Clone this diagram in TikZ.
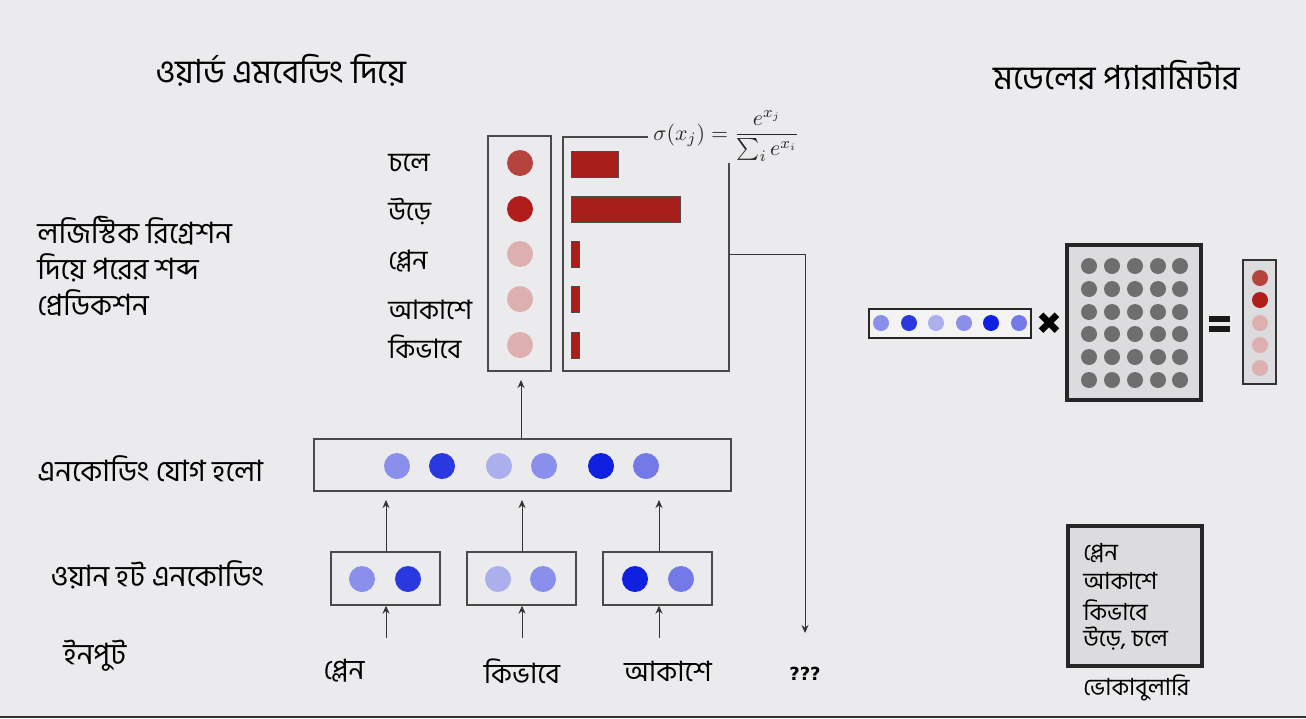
\documentclass[tikz,border=0pt]{standalone}
\usepackage{amsmath}
\usepackage{fontspec}
\newfontfamily\bn[Script=Bengali]{Hind Siliguri}
\newfontfamily\dv{DejaVu Sans}
\usetikzlibrary{arrows.meta}
\definecolor{bgc}{HTML}{EBEBED}
\definecolor{edge}{HTML}{4A4A4A}
\definecolor{rA}{HTML}{B5443F}
\definecolor{rB}{HTML}{B01D1B}
\definecolor{rC}{HTML}{DDAFAF}
\definecolor{bar}{HTML}{A81E1B}
\definecolor{bA}{HTML}{8A8FEB}
\definecolor{bB}{HTML}{2A38E0}
\definecolor{bC}{HTML}{ABAFEB}
\definecolor{bD}{HTML}{1020E0}
\definecolor{bE}{HTML}{7479E8}
\definecolor{mg}{HTML}{6E6E6E}
\definecolor{boxfill}{HTML}{DCDCDE}
\tikzset{
  lbl/.style={font=\bn\fontsize{14.7}{16}\selectfont, anchor=west, inner sep=0pt},
  wrd/.style={font=\bn\fontsize{13.4}{15}\selectfont, anchor=west, inner sep=0pt},
  inp/.style={font=\bn\fontsize{14}{16}\selectfont, anchor=center, inner sep=0pt},
  voct/.style={font=\bn\fontsize{11.8}{13}\selectfont, anchor=west, inner sep=0pt},
  ttl/.style={font=\bn\fontsize{16.6}{18}\selectfont, anchor=west, inner sep=0pt},
  box/.style={draw=edge, line width=0.7pt, inner sep=0pt},
  thickbox/.style={draw=black!85, line width=2pt, fill=boxfill, inner sep=0pt},
  dot/.style={circle, inner sep=0pt, minimum size=13pt},
  sdot/.style={circle, inner sep=0pt, minimum size=8pt},
  arr/.style={draw=black!80, line width=0.5pt, -{Stealth[length=4pt,width=3.5pt]}},
}
\begin{document}
\begin{tikzpicture}[x=0.5pt,y=-0.5pt]
\fill[bgc] (0,0) rectangle (1306,718);
\useasboundingbox (0,0) rectangle (1306,718);
\draw[black!80, line width=1.2pt] (0,716.8) -- (1306,716.8);

% titles
\node[ttl] (t1) at (155,70) {ওয়ার্ড এমবেডিং দিয়ে};
\node[ttl] (t2) at (993,75) {মডেলের প্যারামিটার};

% left labels
\node[lbl] (l1) at (37,231) {লজিস্টিক রিগ্রেশন};
\node[lbl] (l2) at (37,268) {দিয়ে পরের শব্দ};
\node[lbl] (l3) at (37,303) {প্রেডিকশন};
\node[lbl] (l4) at (37,469) {এনকোডিং যোগ হলো};
\node[lbl] (l5) at (50,575) {ওয়ান হট এনকোডিং};
\node[lbl] (l6) at (63,656) {ইনপুট};

% output words
\node[wrd] (w1) at (388,163) {চলে};
\node[wrd] (w2) at (388,212) {উড়ে};
\node[wrd] (w3) at (388,261) {প্লেন};
\node[wrd] (w4) at (388,310) {আকাশে};
\node[wrd] (w5) at (388,347) {কিভাবে};

% red circle box
\node[box, minimum width=31.5pt, minimum height=117.5pt] (rbox) at (519.5,253.5) {};
\node[dot, fill=rA] (r1) at (520,163) {};
\node[dot, fill=rB] (r2) at (520,209) {};
\node[dot, fill=rC] (r3) at (520,254) {};
\node[dot, fill=rC] (r4) at (520,299) {};
\node[dot, fill=rC] (r5) at (520,345) {};

% bar box
\coordinate (bbtl) at (563,137);
\coordinate (bbtr) at (648,137);
\coordinate (bbbl) at (563,371);
\coordinate (bbbr) at (729,371);
\coordinate (bbrt) at (729,163);
\draw[box] (bbtr) -- (bbtl) -- (bbbl) -- (bbbr) -- (bbrt);
\draw[fill=bar, draw=black!70, line width=0.5pt] (571,151) rectangle (618,177);
\draw[fill=bar, draw=black!70, line width=0.5pt] (571,196) rectangle (680,222);
\draw[fill=bar, draw=black!70, line width=0.5pt] (571,241) rectangle (579,267);
\draw[fill=bar, draw=black!70, line width=0.5pt] (571,286) rectangle (579,312);
\draw[fill=bar, draw=black!70, line width=0.5pt] (571,332) rectangle (579,358);
\node[anchor=west, inner sep=0pt, font=\fontsize{11}{13}\selectfont, text=black!85] (fm) at (653,136) {$\sigma(x_j) = \dfrac{e^{x_j}}{\sum_i e^{x_i}}$};

% connector to ???
\coordinate (bbr) at (729,254);
\coordinate (bend) at (805,254);
\node[inner sep=1pt, font=\dv\bfseries\fontsize{9}{11}\selectfont] (qq) at (805,674) {???};
\draw[arr] (bbr) -- (bend) -- (805,633);

% encoding box
\node[box, minimum width=208.5pt, minimum height=26pt] (enc) at (522.5,465) {};
\node[dot, fill=bA] (e1) at (397,466) {};
\node[dot, fill=bB] (e2) at (442,466) {};
\node[dot, fill=bC] (e3) at (499,466) {};
\node[dot, fill=bA] (e4) at (544,466) {};
\node[dot, fill=bD] (e5) at (601,466) {};
\node[dot, fill=bE] (e6) at (646,466) {};
\coordinate (rin) at (521,380);
\draw[arr] (enc.north -| rin) -- (rin);

% one-hot boxes
\node[box, minimum width=54.5pt, minimum height=26.5pt] (oh1) at (385.5,578.5) {};
\node[box, minimum width=54.5pt, minimum height=26.5pt] (oh2) at (521.5,578.5) {};
\node[box, minimum width=54.5pt, minimum height=26.5pt] (oh3) at (657.5,578.5) {};
\node[dot, fill=bA] (o11) at (362,579) {};
\node[dot, fill=bB] (o12) at (408,579) {};
\node[dot, fill=bC] (o21) at (498,579) {};
\node[dot, fill=bA] (o22) at (543,579) {};
\node[dot, fill=bD] (o31) at (635,579) {};
\node[dot, fill=bE] (o32) at (681,579) {};

\coordinate (ein1) at (386,500);
\coordinate (ein2) at (522,500);
\coordinate (ein3) at (659,500);
\draw[arr] (oh1.north -| ein1) -- (ein1);
\draw[arr] (oh2.north -| ein2) -- (ein2);
\draw[arr] (oh3.north -| ein3) -- (ein3);

% inputs
\node[inp] (i1) at (344,671) {প্লেন};
\node[inp] (i2) at (522,671) {কিভাবে};
\node[inp] (i3) at (668,671) {আকাশে};
\coordinate (s1) at (386,638);
\coordinate (s2) at (522,638);
\coordinate (s3) at (659,638);
\draw[arr] (s1) -- (s1 |- oh1.south);
\draw[arr] (s2) -- (s2 |- oh2.south);
\draw[arr] (s3) -- (s3 |- oh3.south);

% right side
\node[box, draw=black!85, line width=0.9pt, fill=bgc!60!white, minimum width=81pt, minimum height=14.5pt] (emb) at (950,323.5) {};
\node[sdot, fill=bA] (m1) at (881,323) {};
\node[sdot, fill=bB] (m2) at (909,323) {};
\node[sdot, fill=bC] (m3) at (936,323) {};
\node[sdot, fill=bA] (m4) at (964,323) {};
\node[sdot, fill=bD] (m5) at (991,323) {};
\node[sdot, fill=bE] (m6) at (1019,323) {};
\node[inner sep=0pt, font=\dv\fontsize{15.5}{16}\selectfont] (times) at (1049,324) {✖};

\node[thickbox, minimum width=67pt, minimum height=77.5pt] (mat) at (1134,322.5) {};
\foreach \c [count=\i] in {1089,1112,1135,1158,1180}{
  \foreach \r [count=\j] in {266,289,312,334,357,380}{
    \node[sdot, fill=mg] (g\i\j) at (\c,\r) {};
  }
}
\fill[black!90] (1209,316) rectangle (1230,322);
\fill[black!90] (1209,326) rectangle (1230,332);

\node[box, draw=black!80, line width=0.9pt, fill=boxfill, minimum width=16.5pt, minimum height=62pt] (out) at (1259.5,322) {};
\node[sdot, fill=rA] (p1) at (1260,278) {};
\node[sdot, fill=rB] (p2) at (1260,300) {};
\node[sdot, fill=rC] (p3) at (1260,323) {};
\node[sdot, fill=rC] (p4) at (1260,345) {};
\node[sdot, fill=rC] (p5) at (1260,368) {};

% vocabulary
\node[thickbox, minimum width=67pt, minimum height=70pt] (voc) at (1135,596) {};
\node[voct] (v1) at (1083,553) {প্লেন};
\node[voct] (v2) at (1083,581) {আকাশে};
\node[voct] (v3) at (1083,610) {কিভাবে};
\node[voct] (v4) at (1083,639) {উড়ে, চলে};
\node[voct] (v5) at (1083,688) {ভোকাবুলারি};
\end{tikzpicture}
\end{document}
